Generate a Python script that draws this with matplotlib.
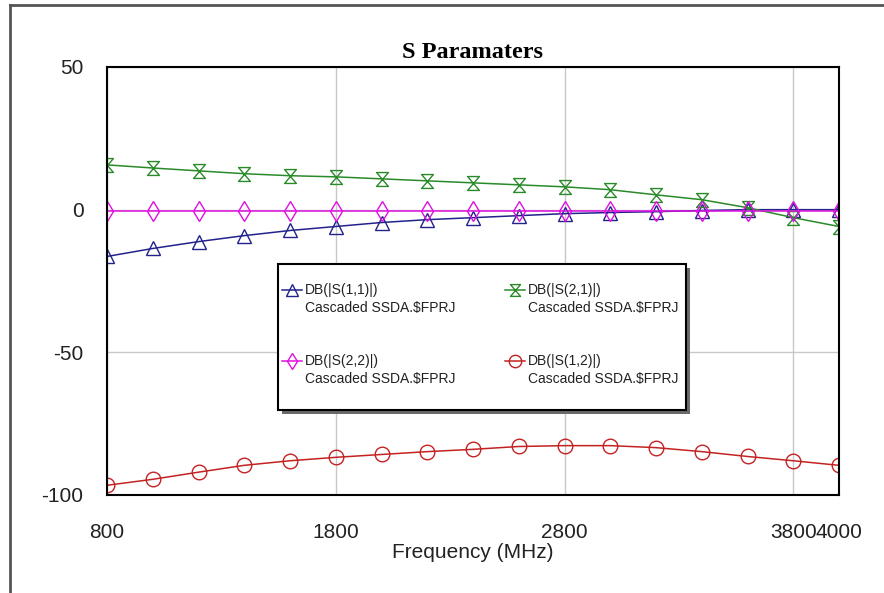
import matplotlib
matplotlib.use("Agg")
import matplotlib.pyplot as plt
import numpy as np
from matplotlib.lines import Line2D
from matplotlib.patches import Rectangle
from matplotlib.path import Path

plt.rcParams["axes.unicode_minus"] = False

# data (dB vs MHz)
freq = [800, 1000, 1200, 1400, 1600, 1800, 2000, 2200, 2400,
        2600, 2800, 3000, 3200, 3400, 3600, 3800, 4000]
s11 = [-16.4, -13.6, -11.2, -9.1, -7.3, -5.9, -4.5, -3.5, -2.8,
       -2.1, -1.4, -1.0, -0.7, -0.3, 0.0, 0.0, 0.0]
s21 = [15.7, 14.6, 13.6, 12.6, 11.9, 11.5, 10.8, 10.1, 9.4,
       8.7, 8.0, 7.0, 5.2, 3.5, 0.7, -2.8, -5.9]
s22 = [-0.4, -0.4, -0.4, -0.4, -0.4, -0.4, -0.4, -0.4, -0.4,
       -0.4, -0.4, -0.4, -0.4, -0.4, -0.4, -0.4, -0.4]
s12 = [-96.6, -94.5, -92.0, -89.6, -88.0, -86.8, -85.8, -84.8, -84.0,
       -83.0, -82.7, -82.7, -83.4, -84.8, -86.5, -88.0, -89.6]

xticks = [800, 1800, 2800, 3800, 4000]
yticks = [50, 0, -50, -100]

names = ["DB(|S(1,1)|)", "DB(|S(2,1)|)", "DB(|S(2,2)|)", "DB(|S(1,2)|)"]
source = r"Cascaded SSDA.\$FPRJ"

W, H = 884, 593

# hourglass marker for S21
hourglass = Path([(-0.85, 1), (0.85, 1), (-0.85, -1), (0.85, -1), (-0.85, 1)],
                 [Path.MOVETO, Path.LINETO, Path.LINETO, Path.LINETO, Path.CLOSEPOLY])

styles = [
    dict(color="#22228c", marker="^", ms=10),
    dict(color="#2a8a2a", marker=hourglass, ms=10),
    dict(color="#e010e0", marker="d", ms=10),
    dict(color="#c42222", marker="o", ms=10.5),
]
series = [s11, s21, s22, s12]


def px(x, y):
    return x / W, 1 - y / H


fig = plt.figure(figsize=(W / 100, H / 100), dpi=100)
ax = fig.add_axes([107 / W, 1 - 495 / H, 732 / W, 428 / H])

for vals, st in zip(series, styles):
    ax.plot(freq, vals, color=st["color"], lw=1.1, marker=st["marker"],
            ms=st["ms"], mfc="none", mec=st["color"], mew=1.0)

ax.set_xlim(800, 4000)
ax.set_ylim(-100, 50)
ax.set_xticks(xticks)
ax.set_yticks(yticks)
ax.grid(True, color="#c8c8c8", lw=1)
ax.set_axisbelow(True)
ax.tick_params(length=0, labelsize=15, pad=17)
ax.tick_params(axis="x", pad=20)
for lab in ax.get_xticklabels() + ax.get_yticklabels():
    lab.set_fontfamily("Liberation Sans")
    lab.set_color("#222222")
for sp in ax.spines.values():
    sp.set_linewidth(1.5)
ax.set_xlabel("Frequency (MHz)", fontsize=15, family="Liberation Sans",
              color="#222222", labelpad=1)
fig.text(473 / W, 1 - 52 / H, "S Paramaters", ha="center", va="center",
         fontsize=17.5, fontweight="bold", family="Liberation Serif")

# legend box with shadow
x0, y0, x1, y1 = 278, 264, 686, 410
fig.add_artist(Rectangle(px(x0 + 4, y1 + 4), (x1 - x0) / W, (y1 - y0) / H,
                         transform=fig.transFigure, facecolor="#6a6a6a",
                         edgecolor="none", zorder=5))
fig.add_artist(Rectangle(px(x0, y1), (x1 - x0) / W, (y1 - y0) / H,
                         transform=fig.transFigure, facecolor="white",
                         edgecolor="black", lw=1.5, zorder=6))

slots = [(282, 290), (505, 290), (282, 361), (505, 361)]
for (hx, hy), name, st in zip(slots, names, styles):
    xa, ya = px(hx, hy)
    xb, _ = px(hx + 10, hy)
    xc, _ = px(hx + 20, hy)
    fig.add_artist(Line2D([xa, xb, xc], [ya, ya, ya], transform=fig.transFigure,
                          color=st["color"], lw=1.1, marker=st["marker"],
                          ms=st["ms"] * 0.85, mfc="none", mec=st["color"],
                          markevery=[1], zorder=7))
    tx, ty = px(hx + 23, hy)
    fig.text(tx, ty, name, ha="left", va="center", fontsize=10,
             family="Liberation Sans", color="#222222", zorder=7)
    tx, ty = px(hx + 23, hy + 18)
    fig.text(tx, ty, source, ha="left", va="center", fontsize=10,
             family="Liberation Sans", color="#222222", zorder=7)

# outer frame of the screenshot (top and left edges)
fig.add_artist(Line2D([10 / W, 1], [1 - 5 / H, 1 - 5 / H], transform=fig.transFigure,
                      color="#555555", lw=2))
fig.add_artist(Line2D([10 / W, 10 / W], [0, 1 - 5 / H], transform=fig.transFigure,
                      color="#555555", lw=2))

fig.savefig("out.png", dpi=100)
